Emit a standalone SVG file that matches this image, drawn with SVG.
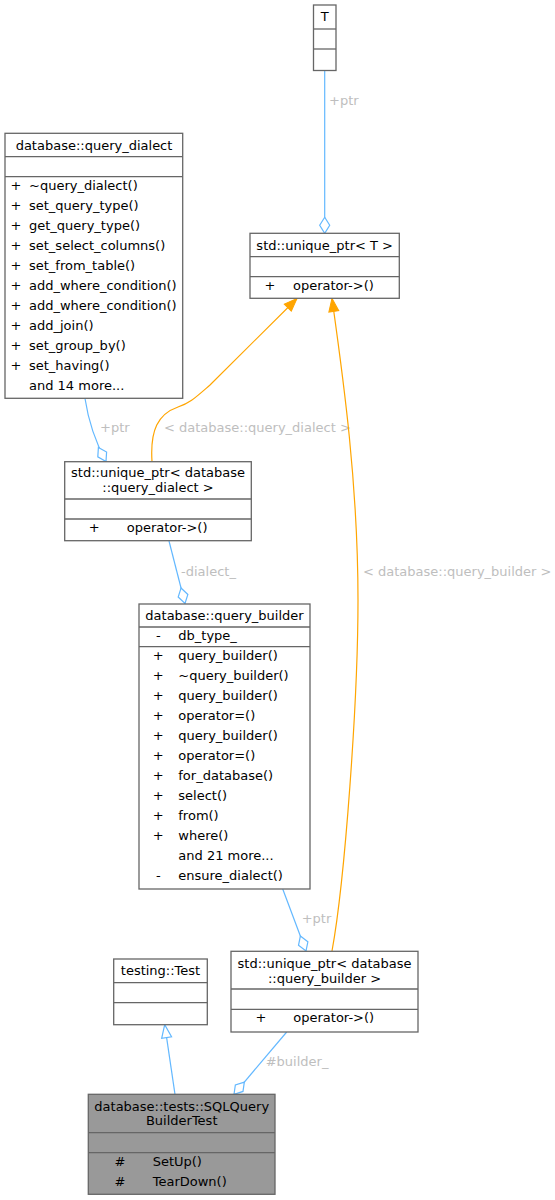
<svg xmlns="http://www.w3.org/2000/svg" width="555" height="1200" viewBox="0 0 555 1200">
<style>
text{font-family:"DejaVu Sans","Liberation Sans",sans-serif;font-size:13px;fill:#000}
.box{fill:#fff;stroke:#666;stroke-width:1.3}
.hl{fill:#999;stroke:#666;stroke-width:1.3}
.sep{stroke:#666;stroke-width:1.3}
.c{text-anchor:middle}
.lbl{fill:#bebebe}
.blue{fill:none;stroke:#63b8ff;stroke-width:1.2}
.orange{fill:none;stroke:#ffa500;stroke-width:1.2}
</style>
<defs>
<marker id="dia" markerUnits="userSpaceOnUse" viewBox="-1 -1 18 12" markerWidth="18" markerHeight="12" refX="16" refY="5" orient="auto" overflow="visible">
<path d="M0,5 L8,0 L16,5 L8,10 Z" fill="#fff" stroke="#63b8ff" stroke-width="1.2"/>
</marker>
<marker id="arr" markerUnits="userSpaceOnUse" viewBox="-1 -1 15 12" markerWidth="15" markerHeight="12" refX="13" refY="5" orient="auto" overflow="visible">
<path d="M0,0 L13,5 L0,10 Z" fill="#ffa500" stroke="#ffa500" stroke-width="1"/>
</marker>
<marker id="tri" markerUnits="userSpaceOnUse" viewBox="-1 -1 15 12" markerWidth="15" markerHeight="12" refX="13" refY="5" orient="auto" overflow="visible">
<path d="M0,0 L13,5 L0,10 Z" fill="#fff" stroke="#63b8ff" stroke-width="1.2"/>
</marker>
</defs>

<g id="edges">
<path class="blue" d="M324.7,70.5 L324.7,233.3" marker-end="url(#dia)"/>
<text class="lbl" x="329" y="105">+ptr</text>
<path class="blue" d="M85,398.5 C89,425 96,443 106,461.5" marker-end="url(#dia)"/>
<text class="lbl" x="100" y="432">+ptr</text>
<path class="orange" d="M152,461.5 C150,430 158,414 178,407 C190,403 195,398 210,385 L297,298.5" marker-end="url(#arr)"/>
<text class="lbl" x="164" y="432">&lt; database::query_dialect &gt;</text>
<path class="orange" d="M332,951 C345,880 358,700 358,600 C358,480 342,370 332,298.5" marker-end="url(#arr)"/>
<text class="lbl" x="363" y="576">&lt; database::query_builder &gt;</text>
<path class="blue" d="M169,541 L185,603.5" marker-end="url(#dia)"/>
<text class="lbl" x="181" y="576">-dialect_</text>
<path class="blue" d="M282.7,889 L306,951" marker-end="url(#dia)"/>
<text class="lbl" x="301.7" y="923">+ptr</text>
<path class="blue" d="M175,1094.3 L164.7,1024.7" marker-end="url(#tri)"/>
<path class="blue" d="M286.7,1032 L234,1094.3" marker-end="url(#dia)"/>
<text class="lbl" x="265.7" y="1066">#builder_</text>
</g>

<g id="node_T">
<rect class="box" x="313.5" y="5" width="22.5" height="65.5"/>
<line class="sep" x1="313.5" y1="29" x2="336" y2="29"/>
<line class="sep" x1="313.5" y1="49" x2="336" y2="49"/>
<text class="c" x="324.7" y="21">T</text>
</g>

<g id="node_unique_ptr_T">
<rect class="box" x="250" y="233.3" width="149.3" height="65"/>
<line class="sep" x1="250" y1="256.7" x2="399.3" y2="256.7"/>
<line class="sep" x1="250" y1="276.7" x2="399.3" y2="276.7"/>
<text class="c" x="324.7" y="250">std::unique_ptr&lt; T &gt;</text>
<text class="c" x="270" y="290">+</text>
<text x="293" y="290">operator-&gt;()</text>
</g>

<g id="node_query_dialect">
<rect class="box" x="5" y="133.3" width="177.7" height="265"/>
<line class="sep" x1="5" y1="156.7" x2="182.7" y2="156.7"/>
<line class="sep" x1="5" y1="176.7" x2="182.7" y2="176.7"/>
<text class="c" x="94" y="150">database::query_dialect</text>
<text class="c" x="16" y="189.5">+</text><text x="29" y="189.5">~query_dialect()</text>
<text class="c" x="16" y="209.5">+</text><text x="29" y="209.5">set_query_type()</text>
<text class="c" x="16" y="229.5">+</text><text x="29" y="229.5">get_query_type()</text>
<text class="c" x="16" y="249.5">+</text><text x="29" y="249.5">set_select_columns()</text>
<text class="c" x="16" y="269.5">+</text><text x="29" y="269.5">set_from_table()</text>
<text class="c" x="16" y="289.5">+</text><text x="29" y="289.5">add_where_condition()</text>
<text class="c" x="16" y="309.5">+</text><text x="29" y="309.5">add_where_condition()</text>
<text class="c" x="16" y="329.5">+</text><text x="29" y="329.5">add_join()</text>
<text class="c" x="16" y="349.5">+</text><text x="29" y="349.5">set_group_by()</text>
<text class="c" x="16" y="369.5">+</text><text x="29" y="369.5">set_having()</text>
<text x="29" y="389.5">and 14 more...</text>
</g>

<g id="node_unique_ptr_query_dialect">
<rect class="box" x="64.7" y="461.7" width="186.6" height="79"/>
<line class="sep" x1="64.7" y1="499" x2="251.3" y2="499"/>
<line class="sep" x1="64.7" y1="519" x2="251.3" y2="519"/>
<text class="c" x="158" y="477">std::unique_ptr&lt; database</text>
<text class="c" x="158" y="492">::query_dialect &gt;</text>
<text class="c" x="94.3" y="532">+</text>
<text x="126.7" y="532">operator-&gt;()</text>
</g>

<g id="node_query_builder">
<rect class="box" x="139" y="604" width="171" height="285"/>
<line class="sep" x1="139" y1="627" x2="310" y2="627"/>
<line class="sep" x1="139" y1="646.7" x2="310" y2="646.7"/>
<text class="c" x="224.5" y="620">database::query_builder</text>
<text class="c" x="158.3" y="640">-</text><text x="178.3" y="640">db_type_</text>
<text class="c" x="158.3" y="660">+</text><text x="178.3" y="660">query_builder()</text>
<text class="c" x="158.3" y="680">+</text><text x="178.3" y="680">~query_builder()</text>
<text class="c" x="158.3" y="700">+</text><text x="178.3" y="700">query_builder()</text>
<text class="c" x="158.3" y="720">+</text><text x="178.3" y="720">operator=()</text>
<text class="c" x="158.3" y="740">+</text><text x="178.3" y="740">query_builder()</text>
<text class="c" x="158.3" y="760">+</text><text x="178.3" y="760">operator=()</text>
<text class="c" x="158.3" y="780">+</text><text x="178.3" y="780">for_database()</text>
<text class="c" x="158.3" y="800">+</text><text x="178.3" y="800">select()</text>
<text class="c" x="158.3" y="820">+</text><text x="178.3" y="820">from()</text>
<text class="c" x="158.3" y="840">+</text><text x="178.3" y="840">where()</text>
<text x="178.3" y="860">and 21 more...</text>
<text class="c" x="158.3" y="880">-</text><text x="178.3" y="880">ensure_dialect()</text>
</g>

<g id="node_unique_ptr_query_builder">
<rect class="box" x="231" y="951.3" width="187" height="80.7"/>
<line class="sep" x1="231" y1="989" x2="418" y2="989"/>
<line class="sep" x1="231" y1="1009.3" x2="418" y2="1009.3"/>
<text class="c" x="324.5" y="968">std::unique_ptr&lt; database</text>
<text class="c" x="324.5" y="983">::query_builder &gt;</text>
<text class="c" x="261" y="1022">+</text>
<text x="293.3" y="1022">operator-&gt;()</text>
</g>

<g id="node_testing_Test">
<rect class="box" x="113.7" y="959" width="93.6" height="65.7"/>
<line class="sep" x1="113.7" y1="982.7" x2="207.3" y2="982.7"/>
<line class="sep" x1="113.7" y1="1002.7" x2="207.3" y2="1002.7"/>
<text class="c" x="160.5" y="975">testing::Test</text>
</g>

<g id="node_SQLQueryBuilderTest">
<rect class="hl" x="88.3" y="1094.3" width="186.7" height="100"/>
<line class="sep" x1="88.3" y1="1132.7" x2="275" y2="1132.7"/>
<line class="sep" x1="88.3" y1="1152.7" x2="275" y2="1152.7"/>
<text class="c" x="181.7" y="1111">database::tests::SQLQuery</text>
<text class="c" x="181.7" y="1125">BuilderTest</text>
<text class="c" x="120" y="1166">#</text><text x="152.7" y="1166">SetUp()</text>
<text class="c" x="120" y="1186">#</text><text x="152.7" y="1186">TearDown()</text>
</g>
</svg>
